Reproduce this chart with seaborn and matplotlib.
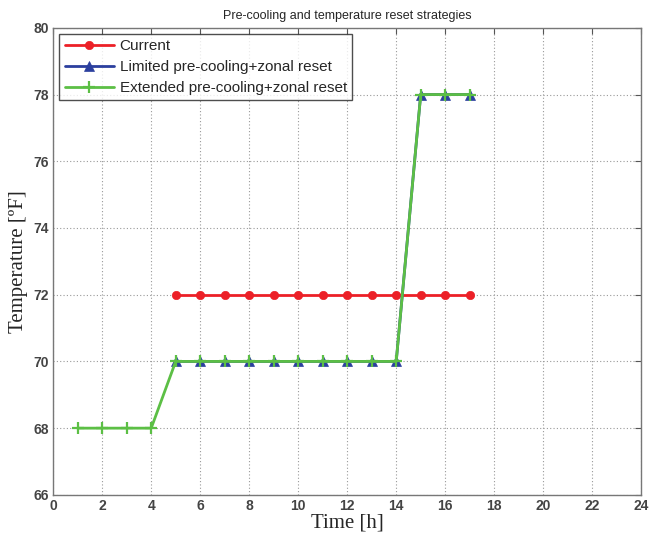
import matplotlib
matplotlib.use("Agg")
import matplotlib.pyplot as plt
import seaborn as sns
import pandas as pd

# horas e temperaturas
horas_atual = [5, 6, 7, 8, 9, 10, 11, 12, 13, 14, 15, 16, 17]
temp_atual = [72, 72, 72, 72, 72, 72, 72, 72, 72, 72, 72, 72, 72]

horas_limitado = [5, 6, 7, 8, 9, 10, 11, 12, 13, 14, 15, 16, 17]
temp_limitado = [70, 70, 70, 70, 70, 70, 70, 70, 70, 70, 78, 78, 78]

horas_estendido = [1, 2, 3, 4, 5, 6, 7, 8, 9, 10, 11, 12, 13, 14, 15, 16, 17]
temp_estendido = [68, 68, 68, 68, 70, 70, 70, 70, 70, 70, 70, 70, 70, 70, 78, 78, 78]

x_ticks = list(range(0, 25, 2))
y_ticks = list(range(66, 81, 2))

sns.set_style("white")
plt.rcParams['font.family'] = ['Liberation Sans', 'DejaVu Sans']

fig = plt.figure(figsize=(6.49, 5.35), dpi=100)
ax = fig.add_axes([0.082, 0.075, 0.906, 0.873])

df_a = pd.DataFrame({'h': horas_atual, 't': temp_atual})
df_l = pd.DataFrame({'h': horas_limitado, 't': temp_limitado})
df_e = pd.DataFrame({'h': horas_estendido, 't': temp_estendido})

sns.lineplot(data=df_a, x='h', y='t', ax=ax, color='#ec2027', lw=2, marker='o',
             markersize=6, markeredgecolor='#ec2027', markeredgewidth=0.5,
             label='Current')
sns.lineplot(data=df_l, x='h', y='t', ax=ax, color='#2b3f9e', lw=2, marker='^',
             markersize=7, markeredgecolor='#2b3f9e', markeredgewidth=0.5,
             label='Limited pre-cooling+zonal reset')
sns.lineplot(data=df_e, x='h', y='t', ax=ax, color='#5cbf45', lw=2, marker='+',
             markersize=9, markeredgecolor='#5cbf45', markeredgewidth=1.6,
             label='Extended pre-cooling+zonal reset')

ax.set_xlim(0, 24)
ax.set_ylim(66, 80)
ax.set_xticks(x_ticks)
ax.set_yticks(y_ticks)
ax.grid(True, linestyle=(0, (1, 2)), color='#999999', lw=0.8)
ax.tick_params(direction='in', top=True, right=True, length=4, labelsize=10,
               color='#555555', pad=3)
for lab in ax.get_xticklabels() + ax.get_yticklabels():
    lab.set_fontweight('bold')
    lab.set_color('#444444')
for s in ax.spines.values():
    s.set_color('#777777')
    s.set_linewidth(1)

ax.set_xlabel('Time [h]', family='Liberation Serif', fontsize=15, labelpad=0)
ax.set_ylabel('Temperature [ºF]', family='Liberation Serif', fontsize=15, labelpad=4)
ax.set_title('Pre-cooling and temperature reset strategies', fontsize=9, pad=6)

leg = ax.legend(loc='upper left', fontsize=11, frameon=True, fancybox=False,
                borderpad=0.35, handlelength=3.2, handletextpad=0.4,
                labelspacing=0.45, borderaxespad=0.4)
leg.get_frame().set_edgecolor('#222222')
leg.get_frame().set_linewidth(1)

fig.savefig('out.png', dpi=100)
